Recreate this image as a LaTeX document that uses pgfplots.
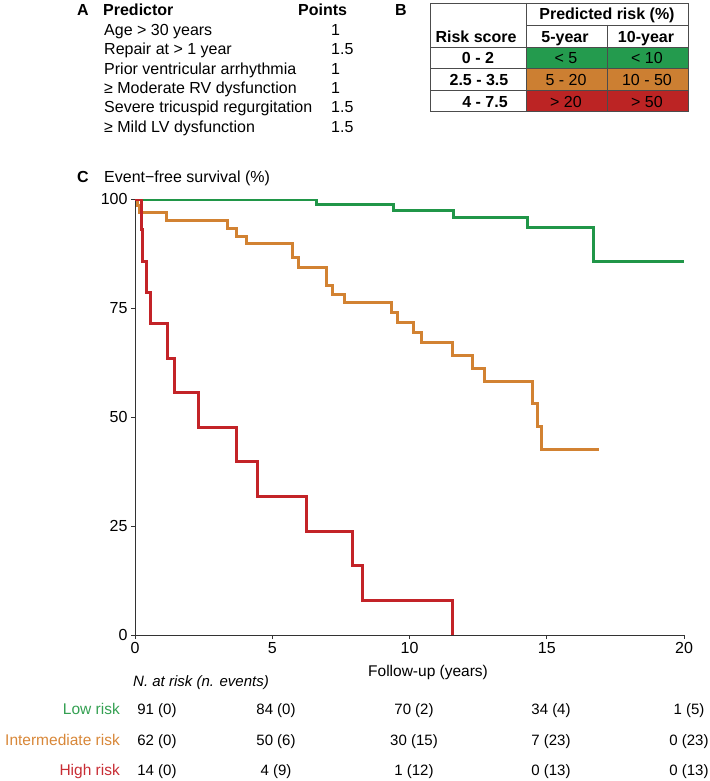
\documentclass[border=0pt]{standalone}
\usepackage{fontspec}
\setmainfont{Liberation Sans}
\usepackage{pgfplots}
\pgfplotsset{compat=1.18}
\definecolor{lgreen}{RGB}{32,150,72}
\definecolor{lorange}{RGB}{210,130,50}
\definecolor{lred}{RGB}{195,35,40}
\definecolor{cgreen}{RGB}{36,155,78}
\definecolor{corange}{RGB}{204,127,50}
\definecolor{cred}{RGB}{188,36,36}
\definecolor{tgreen}{RGB}{52,160,82}
\definecolor{torange}{RGB}{216,135,56}
\definecolor{tred}{RGB}{200,45,52}
\newcommand{\fs}[1]{\fontsize{#1}{#1}\selectfont}
\begin{document}
\begin{tikzpicture}
\path[use as bounding box] (0,0) rectangle (709pt,-781pt);
\tikzset{t/.style={inner sep=0pt, font=\fs{16}}}
% ---- Panel A ----
\node[t, anchor=base west, font=\fs{16}\bfseries] at (77pt,-16pt) {A};
\node[t, anchor=base west, font=\fs{16}\bfseries] at (103pt,-16pt) {Predictor};
\node[t, anchor=base west, font=\fs{16}\bfseries] at (298pt,-16pt) {Points};
\node[t, anchor=base west] at (104pt,-35.4pt) {Age > 30 years};
\node[t, anchor=base west] at (104pt,-54.8pt) {Repair at > 1 year};
\node[t, anchor=base west] at (104pt,-74.2pt) {Prior ventricular arrhythmia};
\node[t, anchor=base west] at (104pt,-93.6pt) {≥ Moderate RV dysfunction};
\node[t, anchor=base west] at (104pt,-113pt) {Severe tricuspid regurgitation};
\node[t, anchor=base west] at (104pt,-132.4pt) {≥ Mild LV dysfunction};
\node[t, anchor=base west] at (331pt,-35.4pt) {1};
\node[t, anchor=base west] at (331pt,-54.8pt) {1.5};
\node[t, anchor=base west] at (331pt,-74.2pt) {1};
\node[t, anchor=base west] at (331pt,-93.6pt) {1};
\node[t, anchor=base west] at (331pt,-113pt) {1.5};
\node[t, anchor=base west] at (331pt,-132.4pt) {1.5};
% ---- Panel B ----
\node[t, anchor=base west, font=\fs{16}\bfseries] at (395pt,-16pt) {B};
\fill[cgreen] (526pt,-47pt) rectangle (688pt,-68pt);
\fill[corange] (526pt,-68pt) rectangle (688pt,-90pt);
\fill[cred] (526pt,-90pt) rectangle (688pt,-111pt);
\draw[black!70, line width=0.9pt] (430pt,-3pt) rectangle (688pt,-111pt);
\draw[black!70, line width=0.9pt] (526pt,-3pt) -- (526pt,-111pt);
\draw[black!70, line width=0.9pt] (607pt,-25pt) -- (607pt,-111pt);
\draw[black!70, line width=0.9pt] (526pt,-25pt) -- (688pt,-25pt);
\draw[black!70, line width=0.9pt] (430pt,-47pt) -- (688pt,-47pt);
\draw[black!70, line width=0.9pt] (430pt,-68pt) -- (688pt,-68pt);
\draw[black!70, line width=0.9pt] (430pt,-90pt) -- (688pt,-90pt);
\node[t, anchor=base, font=\fs{16}\bfseries] at (607pt,-20pt) {Predicted risk (\%)};
\node[t, anchor=base, font=\fs{16}\bfseries] at (476pt,-43pt) {Risk score};
\node[t, anchor=base, font=\fs{16}\bfseries] at (565pt,-43pt) {5-year};
\node[t, anchor=base, font=\fs{16}\bfseries] at (646pt,-43pt) {10-year};
\node[t, anchor=base, font=\fs{16}\bfseries] at (478pt,-64pt) {0 - 2};
\node[t, anchor=base, font=\fs{16}\bfseries] at (479pt,-86pt) {2.5 - 3.5};
\node[t, anchor=base, font=\fs{16}\bfseries] at (485pt,-107pt) {4 - 7.5};
\node[t, anchor=base] at (566pt,-64pt) {< 5};
\node[t, anchor=base] at (647pt,-64pt) {< 10};
\node[t, anchor=base] at (566pt,-86pt) {5 - 20};
\node[t, anchor=base] at (647pt,-86pt) {10 - 50};
\node[t, anchor=base] at (566pt,-107pt) {> 20};
\node[t, anchor=base] at (647pt,-107pt) {> 50};
% ---- Panel C ----
\node[t, anchor=base west, font=\fs{16}\bfseries] at (77pt,-182pt) {C};
\node[t, anchor=base west] at (104pt,-182pt) {Event−free survival (\%)};
\begin{axis}[
  at={(135pt,-635pt)}, anchor=south west,
  scale only axis, width=549pt, height=436pt,
  xmin=0, xmax=20, ymin=0, ymax=100,
  axis x line*=bottom, axis y line*=left,
  xtick={0,5,10,15,20}, ytick={0,25,50,75,100},
  tick align=outside, major tick length=4pt,
  axis line style={line width=0.9pt, black!80},
  tick style={line width=0.9pt, black!80},
  tick label style={font=\fs{16}},
  /pgf/number format/assume math mode=true,
]
\addplot[lgreen, line width=3pt, const plot] coordinates {(0,100) (6.6,98.85) (9.43,97.3) (11.62,95.8) (14.3,93.5) (16.7,85.7) (20,85.7)};
\addplot[lorange, line width=3pt, const plot] coordinates {(0,100) (0.08,98.4) (0.18,96.8) (1.13,95.0) (3.36,93.3) (3.70,91.5) (4.07,89.8) (5.72,86.5) (5.95,84.2) (6.96,80.2) (7.19,78.2) (7.65,76.2) (9.35,73.9) (9.56,71.7) (10.14,69.4) (10.44,67.1) (11.56,64.2) (12.29,61.2) (12.75,58.1) (14.47,53.2) (14.66,47.9) (14.80,42.6) (16.92,42.6)};
\addplot[lred, line width=3pt, const plot] coordinates {(0,100) (0.23,92.9) (0.29,85.7) (0.43,78.6) (0.57,71.4) (1.19,63.5) (1.43,55.6) (2.32,47.6) (3.70,39.7) (4.47,31.7) (6.25,23.8) (7.93,15.9) (8.29,7.9) (11.57,0)};
\end{axis}
\node[t, anchor=base west, font=\fs{15.5}] at (368pt,-676pt) {Follow-up (years)};
\node[t, anchor=base west, font=\fs{15}\itshape] at (133pt,-686pt) {N. at risk (n. events)};
\node[t, anchor=base east, font=\fs{15.5}, text=tgreen] at (120pt,-714pt) {Low risk};
\node[t, anchor=base east, font=\fs{15.5}, text=torange] at (120pt,-745pt) {Intermediate risk};
\node[t, anchor=base east, font=\fs{15.5}, text=tred] at (120pt,-775pt) {High risk};
\foreach \x/\a/\b/\c in {157/91 (0)/62 (0)/14 (0), 276/84 (0)/50 (6)/4 (9), 414/70 (2)/30 (15)/1 (12), 551/34 (4)/7 (23)/0 (13), 689/1 (5)/0 (23)/0 (13)} {
  \node[t, anchor=base, font=\fs{15}] at (\x pt,-714pt) {\a};
  \node[t, anchor=base, font=\fs{15}] at (\x pt,-745pt) {\b};
  \node[t, anchor=base, font=\fs{15}] at (\x pt,-775pt) {\c};
}
\end{tikzpicture}
\end{document}
